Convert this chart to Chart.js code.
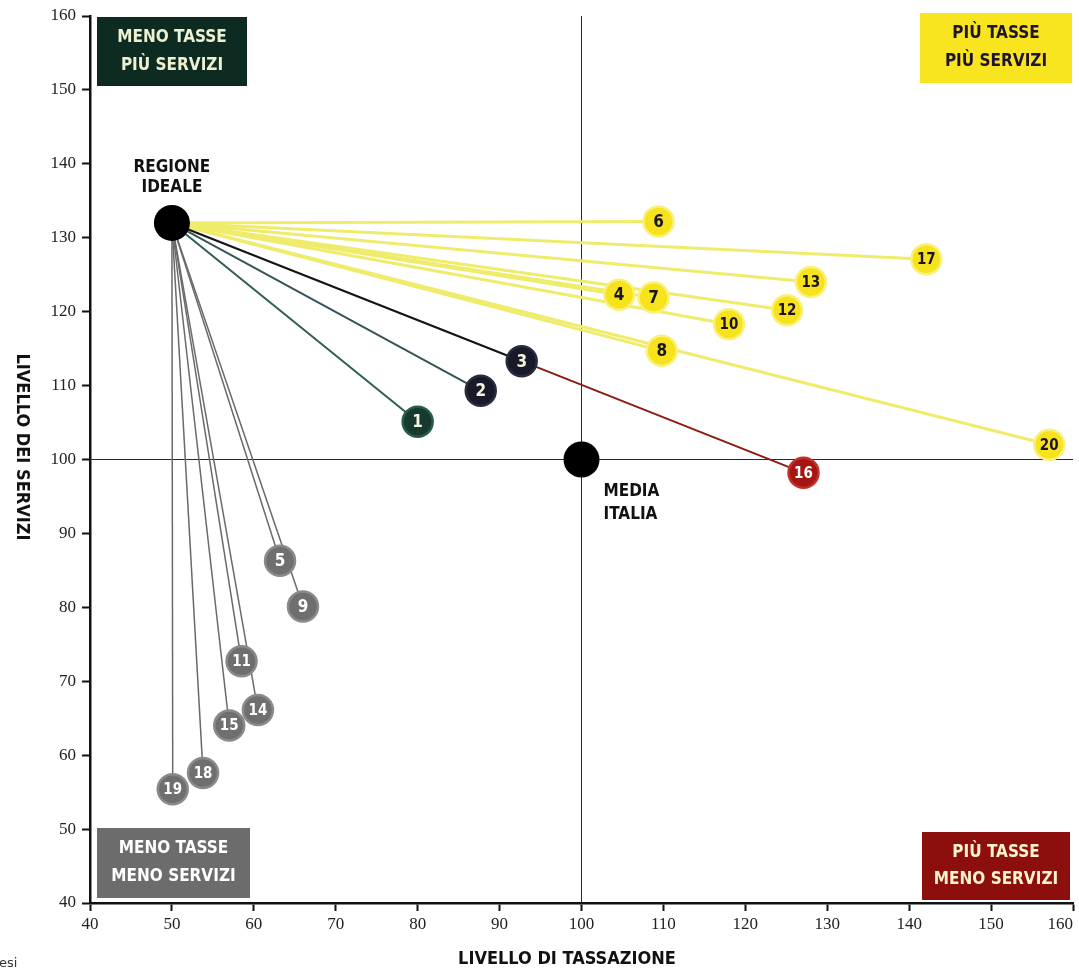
<!DOCTYPE html>
<html>
<head>
<meta charset="utf-8">
<script src="https://cdn.jsdelivr.net/npm/chart.js@4.4.1/dist/chart.umd.min.js"></script>
<style>
  html, body { margin: 0; padding: 0; background: #ffffff; }
  #wrap { position: relative; width: 1079px; height: 972px; }
  canvas { display: block; }
</style>
</head>
<body>
<div id="wrap"><canvas id="c" width="1079" height="972"></canvas></div>
<script>
// ---- DATA ----
const regionIds    = [1, 2, 3, 4, 5, 6, 7, 8, 9, 10, 11, 12, 13, 14, 15, 16, 17, 18, 19, 20];
const taxLevel     = [80, 87.7, 92.7, 104.6, 63.2, 109.4, 108.8, 109.8, 66, 118, 58.5, 125.1, 128, 60.5, 57, 127.1, 142.1, 53.8, 50.1, 157.1];
const serviceLevel = [105.1, 109.3, 113.3, 122.3, 86.3, 132.2, 121.9, 114.7, 80.1, 118.3, 72.7, 120.2, 124, 66.1, 64, 98.2, 127.1, 57.6, 55.4, 102];
const regionGroup  = ['dark1','dark','dark','yellow','grey','yellow','yellow','yellow','grey','yellow','grey','yellow','yellow','grey','grey','red','yellow','grey','grey','yellow'];
const idealRegion  = [50, 132];   // [tax, services]
const italyAverage = [100, 100];  // [tax, services]
const axisRange    = [40, 160];
const tickStep     = 10;
const quadrantLabels = {
  topLeft: ['MENO TASSE', 'PIÙ SERVIZI'],
  topRight: ['PIÙ TASSE', 'PIÙ SERVIZI'],
  bottomLeft: ['MENO TASSE', 'MENO SERVIZI'],
  bottomRight: ['PIÙ TASSE', 'MENO SERVIZI']
};
const idealLabel = ['REGIONE', 'IDEALE'];
const averageLabel = ['MEDIA', 'ITALIA'];
const xTitle = 'LIVELLO DI TASSAZIONE';
const yTitle = 'LIVELLO DEI SERVIZI';

// ---- STYLES ----
const COND = '"DejaVu Sans Condensed", "DejaVu Sans", sans-serif';
const SERIF = '"Liberation Serif", "DejaVu Serif", serif';
const groupStyle = {
  yellow: { fill: '#f6e31c', border: '#faf07a', text: '#1c1426', line: '#efec6c', lw: 3 },
  grey:   { fill: '#6f6f6f', border: '#8a8a8a', text: '#ffffff', line: '#6a6a6a', lw: 1.5 },
  dark1:  { fill: '#163a30', border: '#2b5a4c', text: '#f4f4e0', line: '#2e5e54', lw: 2 },
  dark:   { fill: '#181a2a', border: '#2a2c3e', text: '#f4f4e0', line: '#36545a', lw: 2 },
  red:    { fill: '#a51612', border: '#c2302a', text: '#ffffff', line: '#8c1a12', lw: 2 }
};

// ---- DATASETS ----
const datasets = [];
datasets.push({ type: 'line', data: [{x: italyAverage[0], y: axisRange[0]}, {x: italyAverage[0], y: axisRange[1]}],
  borderColor: '#2a2a2a', borderWidth: 1, pointRadius: 0, order: 50 });
datasets.push({ type: 'line', data: [{x: axisRange[0], y: italyAverage[1]}, {x: axisRange[1], y: italyAverage[1]}],
  borderColor: '#2a2a2a', borderWidth: 1, pointRadius: 0, order: 50 });

const darkIdx = 2; // region 3 : line continues to region 16
regionIds.forEach((id, i) => {
  const g = regionGroup[i];
  const st = groupStyle[g];
  const ord = g === 'yellow' ? 40 : g === 'grey' ? 39 : 38;
  if (g === 'red') {
    datasets.push({ type: 'line', data: [{x: taxLevel[darkIdx], y: serviceLevel[darkIdx]}, {x: taxLevel[i], y: serviceLevel[i]}],
      borderColor: st.line, borderWidth: 2, pointRadius: 0, order: 37 });
    return;
  }
  let color = st.line, lw = st.lw;
  if (i === darkIdx) { color = '#141414'; lw = 2.2; }
  datasets.push({ type: 'line', data: [{x: idealRegion[0], y: idealRegion[1]}, {x: taxLevel[i], y: serviceLevel[i]}],
    borderColor: color, borderWidth: lw, pointRadius: 0, order: ord });
});

datasets.push({
  type: 'scatter',
  data: regionIds.map((id, i) => ({x: taxLevel[i], y: serviceLevel[i]})),
  pointRadius: 15,
  pointBackgroundColor: regionGroup.map(g => groupStyle[g].fill),
  pointBorderColor: regionGroup.map(g => groupStyle[g].border),
  pointBorderWidth: 2.5,
  order: 10
});
datasets.push({
  type: 'scatter',
  data: [{x: idealRegion[0], y: idealRegion[1]}, {x: italyAverage[0], y: italyAverage[1]}],
  pointRadius: 18,
  pointBackgroundColor: '#000000',
  pointBorderColor: '#000000',
  pointBorderWidth: 0,
  order: 5
});

function drawBox(ctx, x, y, w, h, bg, fg, lines) {
  ctx.save();
  ctx.fillStyle = bg;
  ctx.fillRect(x, y, w, h);
  ctx.fillStyle = fg;
  ctx.font = 'bold 17px ' + COND;
  ctx.textAlign = 'center';
  ctx.textBaseline = 'middle';
  ctx.fillText(lines[0], x + w / 2, y + h * 0.3);
  ctx.fillText(lines[1], x + w / 2, y + h * 0.7);
  ctx.restore();
}

const decor = {
  id: 'decor',
  beforeDatasetsDraw(chart) {
    const ctx = chart.ctx, a = chart.chartArea;
    drawBox(ctx, a.left + 7, a.top + 1, 150, 69, '#0e2b22', '#eef0d2', quadrantLabels.topLeft);
    drawBox(ctx, a.right - 153, a.top - 3, 152, 70, '#f8e520', '#1e1430', quadrantLabels.topRight);
    drawBox(ctx, a.left + 7, a.bottom - 75, 153, 70, '#6c6c6c', '#ffffff', quadrantLabels.bottomLeft);
    drawBox(ctx, a.right - 151, a.bottom - 71, 148, 68, '#8c0f0e', '#fff4cc', quadrantLabels.bottomRight);
  },
  afterDatasetsDraw(chart) {
    const ctx = chart.ctx;
    const xs = chart.scales.x, ys = chart.scales.y;
    ctx.save();
    ctx.textAlign = 'center';
    ctx.textBaseline = 'middle';
    regionIds.forEach((id, i) => {
      const px = xs.getPixelForValue(taxLevel[i]);
      const py = ys.getPixelForValue(serviceLevel[i]);
      ctx.fillStyle = groupStyle[regionGroup[i]].text;
      ctx.font = 'bold ' + (id >= 10 ? 15 : 17) + 'px ' + COND;
      ctx.fillText(String(id), px, py + 1);
    });
    ctx.fillStyle = '#111111';
    ctx.font = 'bold 17px ' + COND;
    const ix = xs.getPixelForValue(idealRegion[0]), iy = ys.getPixelForValue(idealRegion[1]);
    ctx.textAlign = 'center';
    ctx.fillText(idealLabel[0], ix, iy - 55);
    ctx.fillText(idealLabel[1], ix, iy - 35);
    const mx = xs.getPixelForValue(italyAverage[0]), my = ys.getPixelForValue(italyAverage[1]);
    ctx.textAlign = 'left';
    ctx.fillText(averageLabel[0], mx + 22, my + 32);
    ctx.fillText(averageLabel[1], mx + 22, my + 55);
    ctx.restore();
  },
  afterDraw(chart) {
    const ctx = chart.ctx;
    ctx.save();
    ctx.fillStyle = '#111111';
    ctx.font = 'bold 18px ' + COND;
    ctx.textAlign = 'center';
    ctx.textBaseline = 'middle';
    ctx.fillText(xTitle, 567, 959);
    ctx.translate(22, 447);
    ctx.rotate(Math.PI / 2);
    ctx.fillText(yTitle, 0, 0);
    ctx.restore();
    ctx.save();
    ctx.fillStyle = '#333333';
    ctx.font = '13px "DejaVu Sans", sans-serif';
    ctx.textAlign = 'left';
    ctx.textBaseline = 'middle';
    ctx.fillText('esi', -1, 964);
    ctx.restore();
  }
};

const axisCommon = {
  type: 'linear',
  min: axisRange[0],
  max: axisRange[1],
  grid: { display: true, drawOnChartArea: false, drawTicks: true, tickLength: 8, tickWidth: 2, color: '#111111' },
  border: { display: true, color: '#111111', width: 2.5 }
};

new Chart(document.getElementById('c'), {
  type: 'scatter',
  data: { datasets },
  options: {
    responsive: false,
    animation: false,
    devicePixelRatio: 1,
    layout: { autoPadding: false, padding: { top: 16, right: 6, left: 0, bottom: 0 } },
    plugins: { legend: { display: false }, tooltip: { enabled: false } },
    scales: {
      x: Object.assign({}, axisCommon, {
        position: 'bottom',
        ticks: { stepSize: tickStep, color: '#222222', font: { family: SERIF, size: 17 }, padding: 3,
          callback: (v) => v === axisRange[1] ? v + '\u2002\u2002\u2002' : String(v) },
        afterFit(s) { s.height = 69; s.paddingLeft = 0; s.paddingRight = 0; }
      }),
      y: Object.assign({}, axisCommon, {
        position: 'left',
        ticks: { stepSize: tickStep, color: '#222222', font: { family: SERIF, size: 17 }, padding: 6 },
        afterFit(s) { s.width = 90; s.paddingTop = 0; s.paddingBottom = 0; }
      })
    }
  },
  plugins: [decor]
});
</script>
</body>
</html>
